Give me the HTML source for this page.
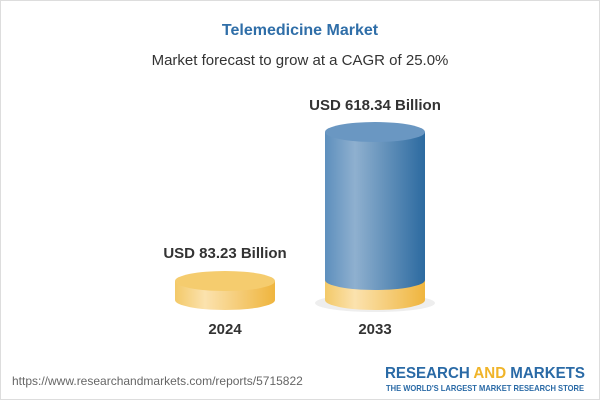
<!DOCTYPE html>
<html><head><style>
body{margin:0;width:600px;height:400px;overflow:hidden;background:#fff;font-family:"Liberation Sans",sans-serif}
.f{position:absolute;left:0;top:0;width:598px;height:398px;border:1px solid #ddd}
.t{position:absolute;width:600px;text-align:center}
</style></head><body>
<div class="f"></div>
<div class="t" style="top:22px;font-size:16px;font-weight:bold;color:#2f6ea8">Telemedicine Market</div>
<div class="t" style="top:52px;font-size:15px;color:#333">Market forecast to grow at a CAGR of 25.0%</div>
<svg width="600" height="400" style="position:absolute;left:0;top:0">
<defs>
<linearGradient id="b" x1="0" x2="1"><stop offset="0" stop-color="#5d8fbd"/><stop offset="0.3" stop-color="#8fb0cf"/><stop offset="1" stop-color="#2c6aa0"/></linearGradient>
<linearGradient id="y" x1="0" x2="1"><stop offset="0" stop-color="#f3c968"/><stop offset="0.3" stop-color="#fbe2ae"/><stop offset="1" stop-color="#efb53e"/></linearGradient>
</defs>
<ellipse cx="375" cy="303" rx="60" ry="9" fill="#eee"/>
<path d="M325 280 L325 300 A50 10 0 0 0 425 300 L425 280 Z" fill="url(#y)"/>
<path d="M325 132 L325 280 A50 10 0 0 0 425 280 L425 132 Z" fill="url(#b)"/>
<ellipse cx="375" cy="132" rx="50" ry="10" fill="#6a97c2"/>
<path d="M175 281 L175 300 A50 10 0 0 0 275 300 L275 281 Z" fill="url(#y)"/>
<ellipse cx="225" cy="281" rx="50" ry="10" fill="#f5cc6e"/>
<text x="225" y="258" text-anchor="middle" font-size="15" font-weight="bold" fill="#333">USD 83.23 Billion</text>
<text x="375" y="110" text-anchor="middle" font-size="15" font-weight="bold" fill="#333">USD 618.34 Billion</text>
<text x="225" y="334" text-anchor="middle" font-size="15" font-weight="bold" fill="#333">2024</text>
<text x="375" y="334" text-anchor="middle" font-size="15" font-weight="bold" fill="#333">2033</text>
<text x="12" y="385" font-size="12" fill="#666">https://www.researchandmarkets.com/reports/5715822</text>
<text x="385" y="378" font-size="16" font-weight="bold" fill="#2a6aa6" textLength="200" lengthAdjust="spacingAndGlyphs">RESEARCH <tspan fill="#f0b429">AND</tspan> MARKETS</text>
<text x="386" y="391" font-size="8.5" font-weight="bold" fill="#2a6aa6" textLength="198" lengthAdjust="spacingAndGlyphs">THE WORLD'S LARGEST MARKET RESEARCH STORE</text>
</svg>
</body></html>
